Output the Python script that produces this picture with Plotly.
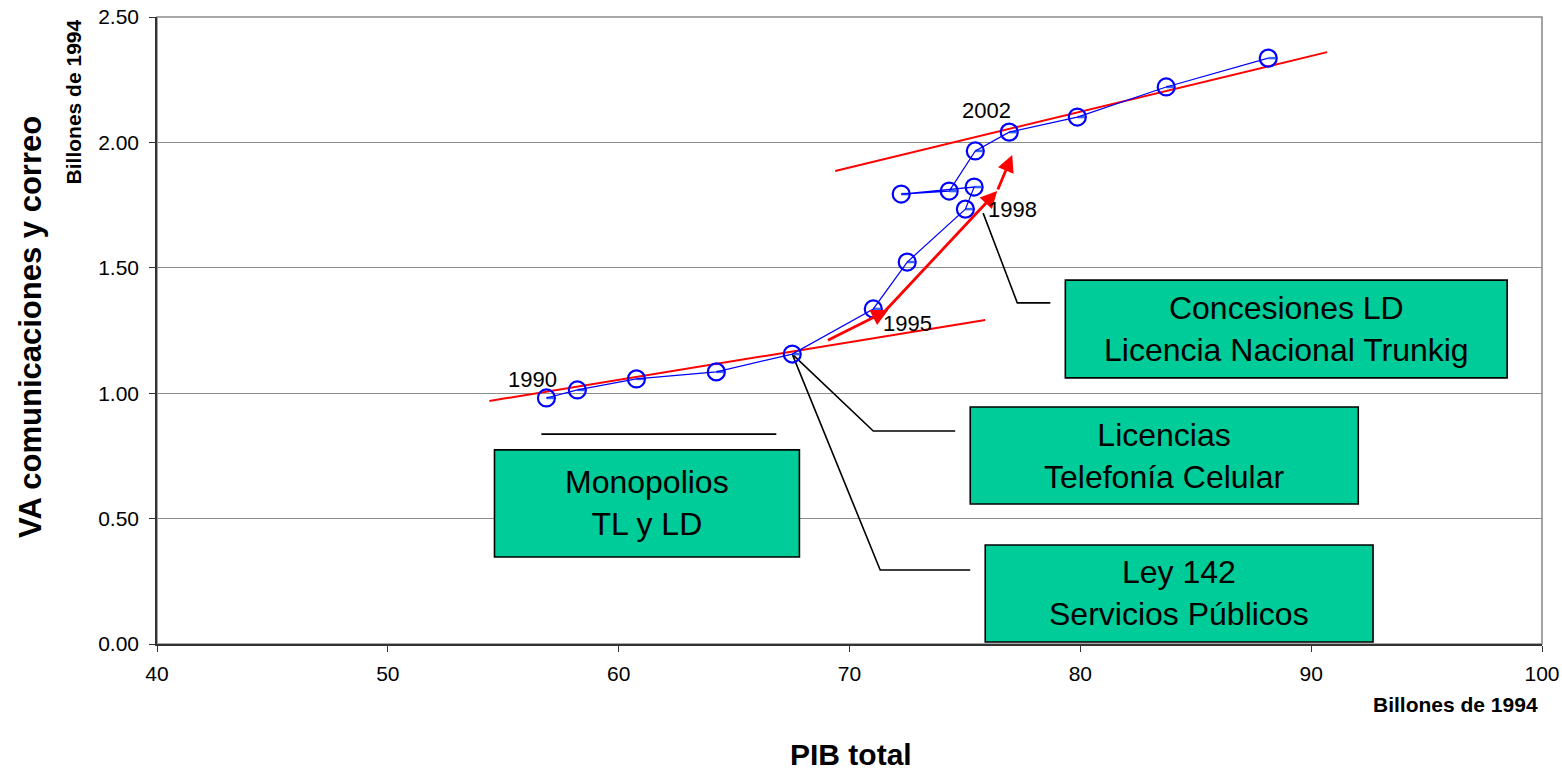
import plotly.graph_objects as go

# ---- data ----
years = [1990, 1991, 1992, 1993, 1994, 1995, 1996, 1997, 1998, 1999,
         2000, 2001, 2002, 2003, 2004, 2005]
pib_total = [56.87, 58.21, 60.77, 64.23, 67.52, 71.03, 72.50, 75.02, 75.40,
             72.24, 74.32, 75.45, 76.92, 79.87, 83.72, 88.14]
va_comunicaciones = [0.981, 1.013, 1.057, 1.085, 1.156, 1.336, 1.523, 1.734,
                     1.822, 1.794, 1.806, 1.966, 2.041, 2.101, 2.221, 2.336]

# trend lines (end points)
trend1_x = [54.4, 75.88]
trend1_y = [0.969, 1.292]
trend2_x = [69.38, 90.69]
trend2_y = [1.886, 2.360]

# red arrow path
arrow_x = [69.00, 71.68, 71.46, 76.40, 76.40, 77.05]
arrow_y = [1.208, 1.332, 1.320, 1.806, 1.806, 1.950]

# year labels
year_labels = ["1990", "1995", "1998", "2002"]
year_label_x = [56.26, 72.50, 77.05, 75.94]
year_label_y = [1.053, 1.276, 1.734, 2.129]

# callout boxes
box_texts = ["Monopolios<br>TL y LD",
             "Licencias<br>Telefonía Celular",
             "Ley 142<br>Servicios Públicos",
             "Concesiones LD<br>Licencia Nacional Trunkig"]
box_x0 = [54.62, 75.23, 75.88, 79.35]
box_x1 = [67.83, 92.04, 92.68, 98.49]
box_y0 = [0.347, 0.558, 0.008, 1.061]
box_y1 = [0.774, 0.945, 0.395, 1.451]

# callout leader lines
leader_x = [[56.65, 66.83],
            [67.52, 71.03, 74.58],
            [67.52, 71.33, 75.23],
            [75.79, 77.27, 78.70]]
leader_y = [[0.837, 0.837],
            [1.156, 0.849, 0.849],
            [1.156, 0.295, 0.295],
            [1.718, 1.360, 1.360]]

x_ticks = [40, 50, 60, 70, 80, 90, 100]
y_ticks = [0.0, 0.5, 1.0, 1.5, 2.0, 2.5]

FONT = "Liberation Sans, Arial, sans-serif"

fig = go.Figure()

# trend lines
for tx, ty in [(trend1_x, trend1_y), (trend2_x, trend2_y)]:
    fig.add_trace(go.Scatter(x=tx, y=ty, mode="lines",
                             line=dict(color="#FF0000", width=2),
                             hoverinfo="skip", showlegend=False))

# leader lines
for lx, ly in zip(leader_x, leader_y):
    fig.add_trace(go.Scatter(x=lx, y=ly, mode="lines",
                             line=dict(color="#000000", width=1.6),
                             hoverinfo="skip", showlegend=False))

# main series
fig.add_trace(go.Scatter(
    x=pib_total, y=va_comunicaciones, mode="lines+markers",
    text=[str(y) for y in years],
    line=dict(color="#0000FF", width=1.2),
    marker=dict(symbol="circle-open", size=17,
                line=dict(color="#0000FF", width=2.2)),
    error_x=dict(type="data", symmetric=False,
                 array=[0.32] * len(pib_total),
                 arrayminus=[0] * len(pib_total),
                 color="#3366FF", thickness=2.5, width=0),
    showlegend=False))

annotations = []
# red arrows
for i in range(0, len(arrow_x), 2):
    annotations.append(dict(
        x=arrow_x[i + 1], y=arrow_y[i + 1], ax=arrow_x[i], ay=arrow_y[i],
        xref="x", yref="y", axref="x", ayref="y", text="",
        showarrow=True, arrowhead=2, arrowsize=1.2, arrowwidth=2.8,
        arrowcolor="#FF0000"))

# year labels
for t, xx, yy in zip(year_labels, year_label_x, year_label_y):
    annotations.append(dict(x=xx, y=yy, xref="x", yref="y", text=t,
                            showarrow=False,
                            font=dict(family=FONT, size=22, color="#000000")))

shapes = []
for t, x0, x1, y0, y1 in zip(box_texts, box_x0, box_x1, box_y0, box_y1):
    shapes.append(dict(type="rect", xref="x", yref="y", x0=x0, x1=x1,
                       y0=y0, y1=y1, fillcolor="#00CC99",
                       line=dict(color="#000000", width=1.6), layer="above"))
    annotations.append(dict(x=(x0 + x1) / 2, y=(y0 + y1) / 2, xref="x",
                            yref="y", text=t, showarrow=False,
                            font=dict(family=FONT, size=32, color="#000000")))

# plot border top/right (gray)
shapes.append(dict(type="rect", xref="paper", yref="paper", x0=0, x1=1,
                   y0=0, y1=1, line=dict(color="#8C8C8C", width=1.6),
                   layer="below"))

# axis titles
annotations += [
    dict(xref="paper", yref="paper", x=-0.0913, y=0.505, text="<b>VA comunicaciones y correo</b>",
         textangle=-90, showarrow=False, xanchor="center", yanchor="middle",
         font=dict(family=FONT, size=31, color="#000000")),
    dict(xref="paper", yref="paper", x=-0.0600, y=1.0, text="<b>Billones de 1994</b>",
         textangle=-90, showarrow=False, xanchor="center", yanchor="top",
         font=dict(family=FONT, size=21, color="#000000")),
    dict(xref="paper", yref="paper", x=0.9986, y=-0.097, text="<b>Billones de 1994</b>",
         showarrow=False, xanchor="right", yanchor="middle",
         font=dict(family=FONT, size=21, color="#000000")),
    dict(xref="paper", yref="paper", x=0.501, y=-0.177, text="<b>PIB total</b>",
         showarrow=False, xanchor="center", yanchor="middle",
         font=dict(family=FONT, size=30, color="#000000")),
]

fig.update_layout(
    width=1562, height=773,
    margin=dict(l=157, r=20, t=17, b=129),
    paper_bgcolor="#FFFFFF", plot_bgcolor="#FFFFFF",
    font=dict(family=FONT, color="#000000"),
    showlegend=False,
    annotations=annotations, shapes=shapes,
    xaxis=dict(range=[40, 100], tickvals=x_ticks, ticktext=[str(v) for v in x_ticks],
               automargin=False,
               showgrid=False, zeroline=False, showline=True,
               linecolor="#333333", linewidth=1.6, ticks="outside", ticklen=6,
               tickcolor="#333333", tickwidth=1.3, ticklabelstandoff=4,
               tickfont=dict(family=FONT, size=21, color="#000000")),
    yaxis=dict(range=[0, 2.5], tickvals=y_ticks, ticktext=[f"{v:.2f}" for v in y_ticks],
               automargin=False,
               showgrid=True, gridcolor="#8C8C8C", gridwidth=1.4,
               zeroline=False, showline=True,
               linecolor="#333333", linewidth=1.6, ticks="outside", ticklen=6,
               tickcolor="#333333", tickwidth=1.3, ticklabelstandoff=6,
               tickfont=dict(family=FONT, size=21, color="#000000")),
)

fig.write_html("out.html", config={"displayModeBar": False},
               post_script="document.body.style.margin='0';document.body.style.overflow='hidden';")
